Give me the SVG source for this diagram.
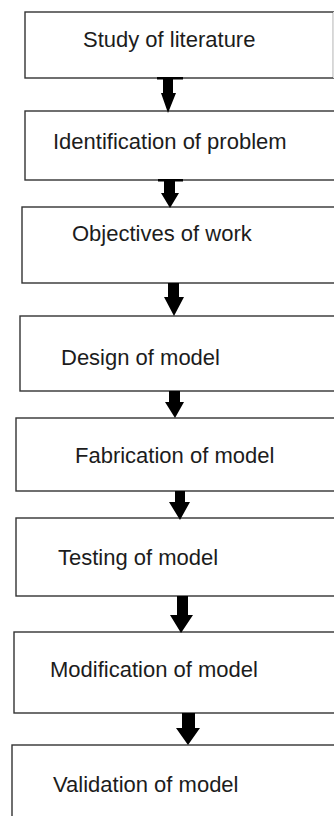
<svg xmlns="http://www.w3.org/2000/svg" width="334" height="816" viewBox="0 0 334 816">
<style>
.box{fill:#fff;stroke:#333;stroke-width:1.4}
.lbl{font-family:"Liberation Sans",Arial,sans-serif;font-size:22px;fill:#1c1c1c}
.arr{fill:#000}
</style>
<rect width="334" height="816" fill="#fff"/>
<g id="n1"><rect class="box" x="25" y="12" width="308.5" height="66"/><line x1="333.5" y1="12" x2="333.5" y2="78" stroke="#ddd" stroke-width="1"/><text class="lbl" x="83" y="47">Study of literature</text></g>
<g id="n2"><rect class="box" x="25" y="111" width="320" height="69"/><text class="lbl" x="53" y="149">Identification of problem</text></g>
<g id="n3"><rect class="box" x="22" y="207" width="320" height="76"/><text class="lbl" x="72" y="241">Objectives of work</text></g>
<g id="n4"><rect class="box" x="20" y="316" width="320" height="75"/><text class="lbl" x="61" y="365">Design of model</text></g>
<g id="n5"><rect class="box" x="16" y="418" width="330" height="73"/><text class="lbl" x="75" y="463">Fabrication of model</text></g>
<g id="n6"><rect class="box" x="16" y="518" width="330" height="78"/><text class="lbl" x="58" y="565">Testing of model</text></g>
<g id="n7"><rect class="box" x="14" y="632" width="330" height="81"/><text class="lbl" x="50" y="677">Modification of model</text></g>
<g id="n8"><rect class="box" x="12" y="745" width="330" height="90"/><text class="lbl" x="53" y="792">Validation of model</text></g>
<g id="connectors">
<rect class="arr" x="157" y="77" width="26" height="2.5"/>
<polygon class="arr" points="163,78 173,78 173,93 176,93 168,113 161,93 163,93"/>
<rect class="arr" x="158" y="179" width="25" height="2.5"/>
<polygon class="arr" points="164,180 175,180 175,193 179,193 170,208 161,193 164,193"/>
<polygon class="arr" points="168,283 179,283 179,297 184,297 174,316 164,297 168,297"/>
<polygon class="arr" points="169,391 180,391 180,402 184,402 175,418 165,402 169,402"/>
<polygon class="arr" points="175,491 185,491 185,502 190,502 180,520 169,502 175,502"/>
<polygon class="arr" points="177,596 188,596 188,615 193,615 181,633 170,615 177,615"/>
<polygon class="arr" points="182,713 195,713 195,728 200,728 188,745 176,728 182,728"/>
</g>
</svg>
